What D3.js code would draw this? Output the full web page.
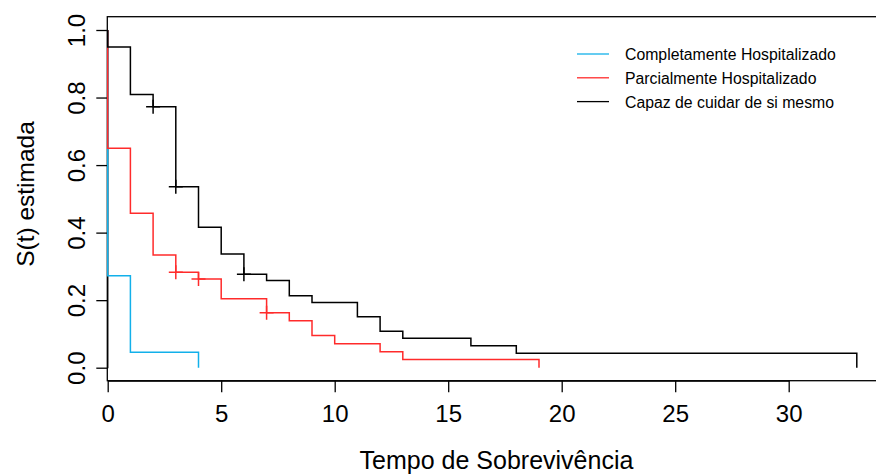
<!DOCTYPE html>
<html>
<head>
<meta charset="utf-8">
<script src="https://cdn.jsdelivr.net/npm/d3@7"></script>
<style>
  body { margin: 0; background: #fff; }
  svg { display: block; font-family: "Liberation Sans", Arial, sans-serif; }
</style>
</head>
<body>
<div id="chart"></div>
<script>
// Kaplan-Meier estimates
var groups = ["Completamente Hospitalizado", "Parcialmente Hospitalizado", "Capaz de cuidar de si mesmo"];
var colors = ["#12B0EA", "#FF2B2B", "#000000"];

var compTimes = [0, 1, 4];
var compSurv = [0.272, 0.046, 0];

var parcTimes = [0, 1, 2, 3, 4, 5, 7, 8, 9, 10, 12, 13, 19];
var parcSurv = [0.65, 0.457, 0.334, 0.283, 0.263, 0.204, 0.163, 0.139, 0.095, 0.071, 0.047, 0.024, 0];

var capTimes = [0, 1, 2, 3, 4, 5, 6, 7, 8, 9, 11, 12, 13, 16, 18, 33];
var capSurv = [0.95, 0.809, 0.773, 0.536, 0.416, 0.337, 0.277, 0.258, 0.213, 0.193, 0.151, 0.108, 0.087, 0.065, 0.043, 0];

// censored times (marked with +)
var parcCens = [3, 4, 7];
var capCens = [2, 3, 6];

var xTicks = [0, 5, 10, 15, 20, 25, 30];
var yTicks = [0, 0.2, 0.4, 0.6, 0.8, 1.0];

var width = 876, height = 474;

var svg = d3.select("#chart").append("svg")
    .attr("width", width)
    .attr("height", height);

// plot region
var box = { left: 107.3, top: 16.7, bottom: 380.7, right: 890 };

var x = d3.scaleLinear().domain([0, 30]).range([107.7, 788.7]);
var y = d3.scaleLinear().domain([0, 1]).range([367.7, 30]);

// box around plot (right edge is cut off in the picture)
svg.append("rect")
    .attr("x", box.left)
    .attr("y", box.top)
    .attr("width", box.right - box.left)
    .attr("height", box.bottom - box.top)
    .attr("fill", "none")
    .attr("stroke", "#000")
    .attr("stroke-width", 1.3);

// X axis
var xAxis = svg.append("g")
    .attr("transform", "translate(0," + box.bottom + ")")
    .call(d3.axisBottom(x).tickValues(xTicks).tickSize(11.5).tickSizeOuter(0).tickPadding(6));
xAxis.select(".domain").attr("stroke-width", 1.3);
xAxis.selectAll(".tick line").attr("stroke-width", 1.3);
xAxis.selectAll(".tick text")
    .attr("font-size", "24px")
    .attr("font-family", "Liberation Sans, Arial, sans-serif")
    .attr("fill", "#000")
    .attr("dy", 0)
    .attr("y", 41.5);

// Y axis with rotated labels (R style)
var yAxis = svg.append("g")
    .attr("transform", "translate(" + box.left + ",0)")
    .call(d3.axisLeft(y).tickValues(yTicks).tickFormat(d3.format(".1f")).tickSize(11).tickSizeOuter(0));
yAxis.select(".domain").attr("stroke-width", 1.3);
yAxis.selectAll(".tick line").attr("stroke-width", 1.3);
yAxis.selectAll(".tick text")
    .attr("font-size", "24px")
    .attr("font-family", "Liberation Sans, Arial, sans-serif")
    .attr("fill", "#000")
    .attr("text-anchor", "middle")
    .attr("transform", "rotate(-90)")
    .attr("x", 0)
    .attr("dy", 0)
    .attr("y", -22.5);

// axis titles
svg.append("text")
    .attr("x", 496.5)
    .attr("y", 468.5)
    .attr("text-anchor", "middle")
    .attr("font-size", "25px")
    .text("Tempo de Sobreviv\u00eancia");

svg.append("text")
    .attr("transform", "translate(33.5,194) rotate(-90)")
    .attr("text-anchor", "middle")
    .attr("font-size", "24.5px")
    .text("S(t) estimada");

// survival curves
var series = [
    { times: compTimes, surv: compSurv, cens: [] },
    { times: parcTimes, surv: parcSurv, cens: parcCens },
    { times: capTimes, surv: capSurv, cens: capCens }
];

var line = d3.line()
    .x(d => x(d[0]))
    .y(d => y(d[1]))
    .curve(d3.curveStepAfter);

series.forEach(function (s, i) {
    var pts = [[0, 1]];
    s.times.forEach(function (t, j) { pts.push([t, s.surv[j]]); });

    svg.append("path")
        .datum(pts)
        .attr("d", line)
        .attr("fill", "none")
        .attr("stroke", colors[i])
        .attr("stroke-width", 1.5);

    // censoring marks
    s.cens.forEach(function (t) {
        var sv = s.surv[s.times.indexOf(t)];
        var cx = x(t), cy = y(sv);
        svg.append("path")
            .attr("d", "M" + (cx - 7) + "," + cy + "H" + (cx + 7) + "M" + cx + "," + (cy - 7) + "V" + (cy + 7))
            .attr("stroke", colors[i])
            .attr("stroke-width", 1.5)
            .attr("fill", "none");
    });
});

// legend (no frame)
var legend = svg.append("g");
groups.forEach(function (g, i) {
    var ly = 54 + i * 23.8;
    legend.append("line")
        .attr("x1", 577).attr("x2", 609)
        .attr("y1", ly).attr("y2", ly)
        .attr("stroke", colors[i])
        .attr("stroke-width", 1.3);
    legend.append("text")
        .attr("x", 625)
        .attr("y", ly + 6.3)
        .attr("font-size", "15.8px")
        .text(g);
});
</script>
</body>
</html>
